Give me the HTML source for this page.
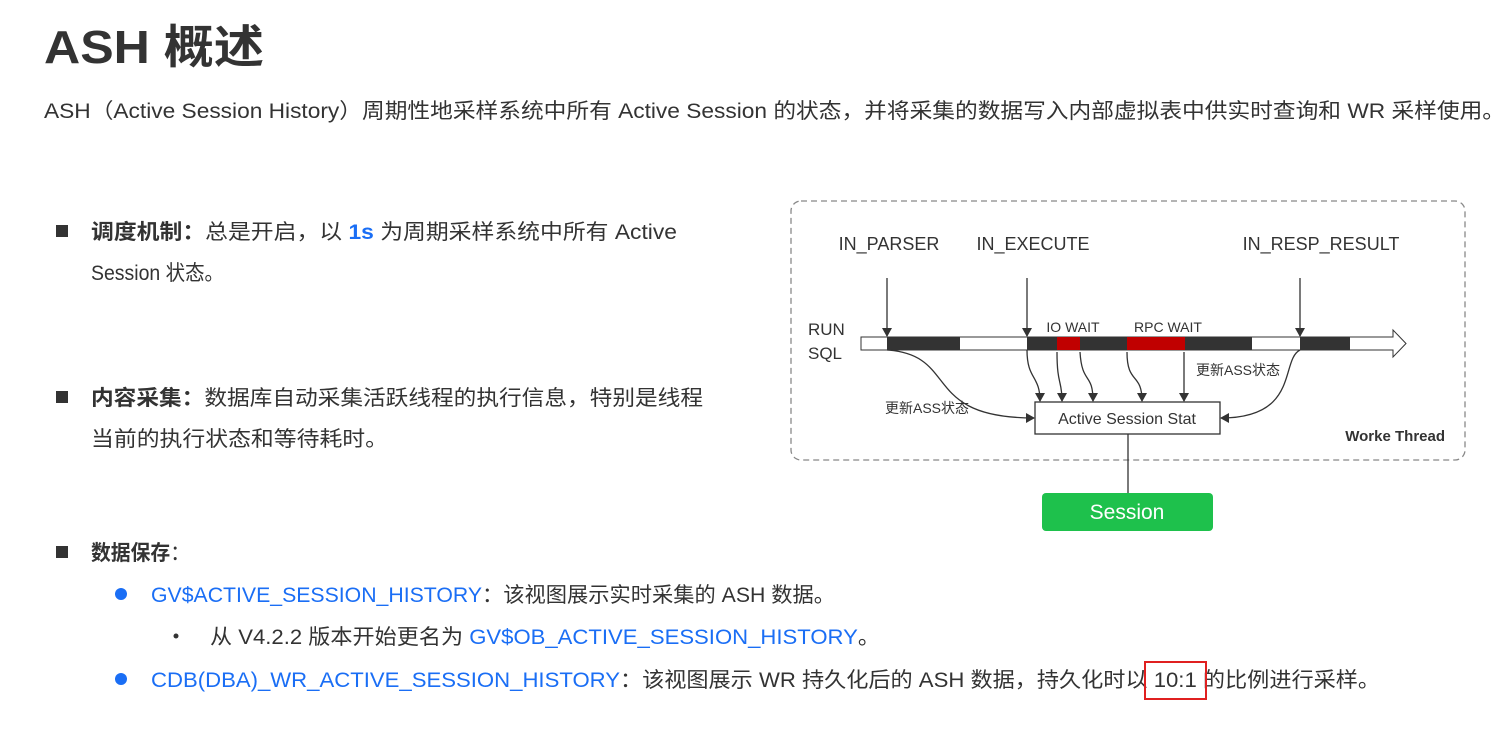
<!DOCTYPE html>
<html><head><meta charset="utf-8"><style>
html,body{margin:0;padding:0;background:#fff;width:1511px;height:744px;overflow:hidden}
svg{display:block}
text{font-family:"Liberation Sans","Noto Sans CJK SC",sans-serif;fill:#333}
.b{fill:#1a6ef5}
</style></head><body>
<svg width="1511" height="744" viewBox="0 0 1511 744" xmlns="http://www.w3.org/2000/svg">
<defs>
<marker id="ah" markerWidth="10" markerHeight="10" refX="8" refY="5" orient="auto" markerUnits="userSpaceOnUse">
<path d="M0,0 L9,5 L0,10 Z" fill="#333"/></marker>
</defs>
<text x="44" y="63" font-size="46" font-weight="bold" textLength="220" lengthAdjust="spacingAndGlyphs">ASH 概述</text>
<text x="44" y="118" font-size="21" textLength="1461" lengthAdjust="spacingAndGlyphs">ASH（Active Session History）周期性地采样系统中所有 Active Session 的状态，并将采集的数据写入内部虚拟表中供实时查询和 WR 采样使用。</text>

<rect x="56" y="225" width="12" height="12" fill="#333"/>
<text x="91" y="239" font-size="21" textLength="586" lengthAdjust="spacingAndGlyphs"><tspan font-weight="bold">调度机制：</tspan>总是开启，以 <tspan class="b" font-weight="bold">1s</tspan> 为周期采样系统中所有 Active</text>
<text x="91" y="280" font-size="21" textLength="133" lengthAdjust="spacingAndGlyphs">Session 状态。</text>

<rect x="56" y="391" width="12" height="12" fill="#333"/>
<text x="91" y="405" font-size="21" textLength="612" lengthAdjust="spacingAndGlyphs"><tspan font-weight="bold">内容采集：</tspan>数据库自动采集活跃线程的执行信息，特别是线程</text>
<text x="91" y="446" font-size="21" textLength="297" lengthAdjust="spacingAndGlyphs">当前的执行状态和等待耗时。</text>

<rect x="56" y="546" width="12" height="12" fill="#333"/>
<text x="91" y="560" font-size="21" textLength="99" lengthAdjust="spacingAndGlyphs"><tspan font-weight="bold">数据保存</tspan>：</text>

<circle cx="121" cy="594" r="6" fill="#1a6ef5"/>
<text x="151" y="602" font-size="21" textLength="684" lengthAdjust="spacingAndGlyphs"><tspan class="b">GV$ACTIVE_SESSION_HISTORY</tspan>：该视图展示实时采集的 ASH 数据。</text>
<circle cx="176" cy="636" r="2.5" fill="#333"/>
<text x="210" y="644" font-size="21" textLength="670" lengthAdjust="spacingAndGlyphs">从 V4.2.2 版本开始更名为 <tspan class="b">GV$OB_ACTIVE_SESSION_HISTORY</tspan>。</text>
<circle cx="121" cy="679" r="6" fill="#1a6ef5"/>
<text x="151" y="687" font-size="21" textLength="1229" lengthAdjust="spacingAndGlyphs"><tspan class="b">CDB(DBA)_WR_ACTIVE_SESSION_HISTORY</tspan>：该视图展示 WR 持久化后的 ASH 数据，持久化时以 10:1 的比例进行采样。</text>
<rect x="1145" y="662" width="61" height="37" fill="none" stroke="#e02020" stroke-width="2"/>

<!-- diagram -->
<rect x="791" y="201" width="674" height="259" rx="10" fill="none" stroke="#888" stroke-width="1.3" stroke-dasharray="6,4"/>
<text x="889" y="250" font-size="18" text-anchor="middle">IN_PARSER</text>
<text x="1033" y="250" font-size="18" text-anchor="middle">IN_EXECUTE</text>
<text x="1321" y="250" font-size="18" text-anchor="middle">IN_RESP_RESULT</text>
<text x="808" y="335" font-size="17">RUN</text>
<text x="808" y="359" font-size="17">SQL</text>
<text x="1073" y="332" font-size="14" text-anchor="middle">IO WAIT</text>
<text x="1168" y="332" font-size="14" text-anchor="middle">RPC WAIT</text>

<path d="M861,337 H1393 V330 L1406,343.5 L1393,357 V350 H861 Z" fill="#fff" stroke="#333" stroke-width="1"/>
<rect x="887" y="337" width="73" height="13" fill="#333"/>
<rect x="1027" y="337" width="225" height="13" fill="#333"/>
<rect x="1057" y="337" width="23" height="13" fill="#c00000"/>
<rect x="1127" y="337" width="58" height="13" fill="#c00000"/>
<rect x="1300" y="337" width="50" height="13" fill="#333"/>

<g stroke="#333" stroke-width="1.3" fill="none" marker-end="url(#ah)">
<line x1="887" y1="278" x2="887" y2="336"/>
<line x1="1027" y1="278" x2="1027" y2="336"/>
<line x1="1300" y1="278" x2="1300" y2="336"/>
<path d="M887,350 C960,355 920,418 1034,418"/>
<path d="M1300,350 C1280,360 1300,418 1221,418"/>
<path d="M1027,350 C1027,380 1040,375 1040,401"/>
<path d="M1057,352 C1057,385 1062,380 1062,401"/>
<path d="M1080,352 C1082,385 1093,372 1093,401"/>
<path d="M1127,352 C1127,385 1142,372 1142,401"/>
<line x1="1184" y1="352" x2="1184" y2="401"/>
</g>
<text x="885" y="413" font-size="14">更新ASS状态</text>
<text x="1196" y="375" font-size="14">更新ASS状态</text>
<rect x="1035" y="402" width="185" height="32" fill="#fff" stroke="#333" stroke-width="1.3"/>
<text x="1127" y="424" font-size="16" text-anchor="middle">Active Session Stat</text>
<text x="1445" y="441" font-size="15" font-weight="bold" text-anchor="end">Worke Thread</text>
<line x1="1128" y1="434" x2="1128" y2="493" stroke="#333" stroke-width="1.3"/>
<rect x="1042" y="493" width="171" height="38" rx="4" fill="#1ec14c"/>
<text x="1127" y="519" font-size="21" text-anchor="middle" style="fill:#fff">Session</text>
</svg>
</body></html>
